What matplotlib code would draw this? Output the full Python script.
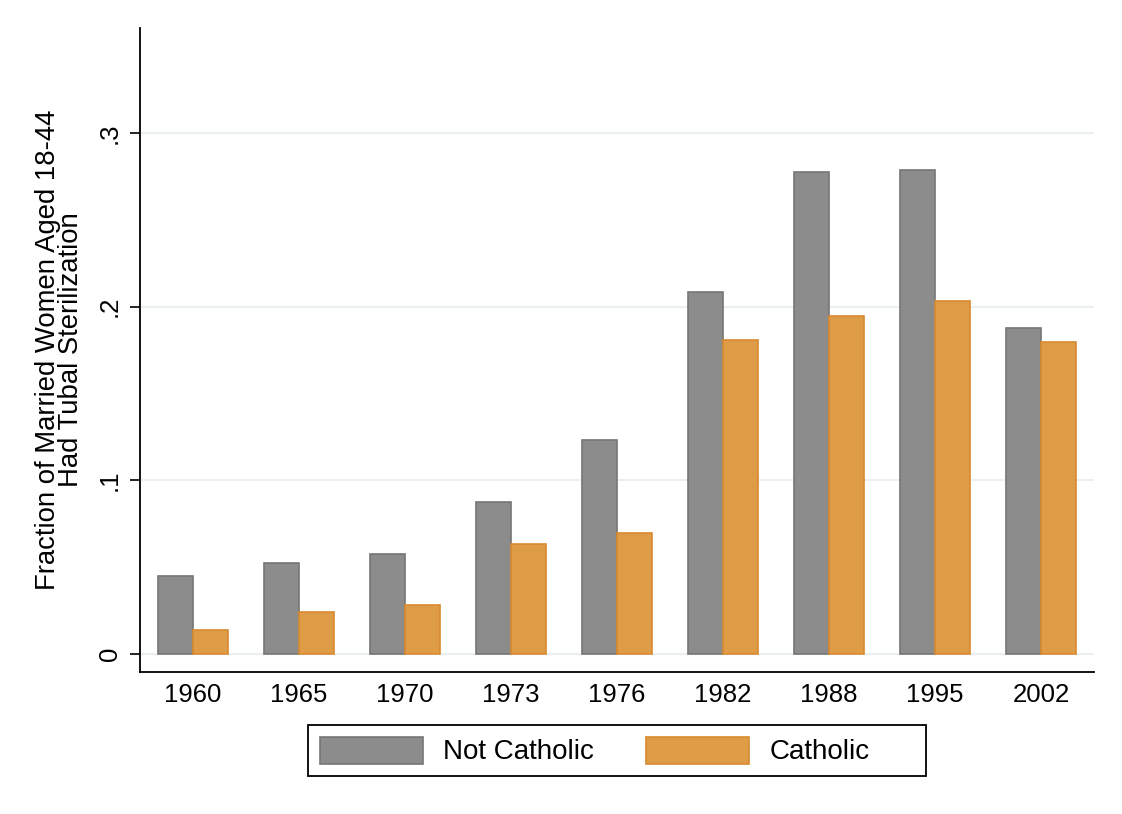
import matplotlib.pyplot as plt
from matplotlib.patches import Rectangle
import numpy as np

plt.rcParams['font.family'] = ['Liberation Sans', 'DejaVu Sans']

years = ['1960', '1965', '1970', '1973', '1976', '1982', '1988', '1995', '2002']
not_catholic = [0.0448, 0.0523, 0.0575, 0.0874, 0.123, 0.2086, 0.2776, 0.2787, 0.1879]
catholic = [0.0138, 0.0241, 0.0282, 0.0632, 0.0695, 0.1805, 0.1943, 0.2034, 0.1799]

gray = '#8c8c8c'
orange = '#dd9c45'

fig = plt.figure(figsize=(11.22, 8.14), dpi=100)
ax = fig.add_axes([0.1248, 0.1744, 0.8502, 0.7912])

x = np.arange(len(years))
w = 0.33
ax.bar(x - w / 2, not_catholic, w, color=gray, edgecolor='#767676', linewidth=1.2,
       label='Not Catholic', zorder=3)
ax.bar(x + w / 2, catholic, w, color=orange, edgecolor='#d98a30', linewidth=1.2,
       label='Catholic', zorder=3)

ax.set_xlim(-0.5, 8.5)
ax.set_ylim(-0.0104, 0.3604)
ax.set_yticks([0, 0.1, 0.2, 0.3])
ax.set_yticklabels(['0', '.1', '.2', '.3'], rotation=90, va='center')
ax.set_xticks(x)
ax.set_xticklabels(years)
ax.tick_params(axis='both', labelsize=18.5, length=7, width=1.2, direction='out')
ax.tick_params(axis='x', length=0, pad=8)
ax.tick_params(axis='y', pad=6)
ax.grid(axis='y', color='#eaf0f2', linewidth=1.5, zorder=0)
ax.set_axisbelow(True)

for s in ['top', 'right']:
    ax.spines[s].set_visible(False)
for s in ['left', 'bottom']:
    ax.spines[s].set_linewidth(1.3)

ax.set_ylabel('Fraction of Married Women Aged 18-44\nHad Tubal Sterilization',
              fontsize=19.8, linespacing=0.85, labelpad=10)

# legend with a fixed outer box, columns laid out Stata-style
fig.legend(loc='center left', bbox_to_anchor=(0.2852, 0.0774), ncol=2,
           fontsize=20, frameon=False,
           handlelength=3.7, handleheight=1.12, handletextpad=0.72,
           columnspacing=1.9, borderpad=0, borderaxespad=0)
fig.patches.append(Rectangle((0.2745, 0.0467), 0.5508, 0.0627, transform=fig.transFigure,
                             fill=False, edgecolor='black', linewidth=1.3))

fig.savefig('out.png', dpi=100, facecolor='white')
